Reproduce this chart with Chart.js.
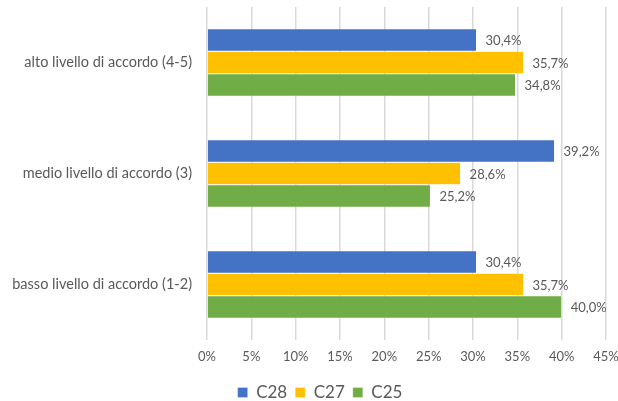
<!DOCTYPE html>
<html>
<head>
<meta charset="utf-8">
<script src="https://cdn.jsdelivr.net/npm/chart.js@4/dist/chart.umd.min.js"></script>
<style>
  html, body { margin: 0; padding: 0; background: #fff; }
  #wrap { width: 618px; height: 401px; }
</style>
</head>
<body>
<div id="wrap"><canvas id="chart"></canvas></div>
<script>
const categories = ['alto livello di accordo (4-5)', 'medio livello di accordo (3)', 'basso livello di accordo (1-2)'];
const seriesNames = ['C28', 'C27', 'C25'];
const c28 = [30.4, 39.2, 30.4];
const c27 = [35.7, 28.6, 35.7];
const c25 = [34.8, 25.2, 40.0];
const xTicks = [0, 5, 10, 15, 20, 25, 30, 35, 40, 45];

const colors = ['#4472C4', '#FFC000', '#70AD47'];
const FONT = 'Lato, "Open Sans", sans-serif';
const TXT = '#595959';

const fmt = v => v.toFixed(1).replace('.', ',') + '%';

// draws value labels just past the end of each bar
const barLabels = {
  id: 'barLabels',
  afterDatasetsDraw(chart) {
    const ctx = chart.ctx;
    ctx.save();
    ctx.font = '13px ' + FONT;
    ctx.fillStyle = TXT;
    ctx.textAlign = 'left';
    ctx.textBaseline = 'middle';
    chart.data.datasets.forEach((ds, i) => {
      chart.getDatasetMeta(i).data.forEach((bar, j) => {
        ctx.fillText(fmt(ds.data[j]), bar.x + 9, bar.y + 1);
      });
    });
    ctx.restore();
  }
};

// legend sits lower and a bit right in the original
const tightLegend = {
  id: 'tightLegend',
  beforeLayout(chart) {
    const lg = chart.legend;
    if (!lg || lg._tight) return;
    const fit = lg.fit;
    lg.fit = function () { fit.call(this); this.height -= 10; };
    lg._tight = true;
  },
  afterLayout(chart) {
    const lg = chart.legend;
    if (!lg) return;
    lg.left += 17;
    lg.right += 17;
  }
};

new Chart(document.getElementById('chart'), {
  type: 'bar',
  data: {
    labels: categories,
    datasets: [c28, c27, c25].map((d, i) => ({
      label: seriesNames[i],
      data: d,
      backgroundColor: colors[i],
      borderColor: 'rgba(255,255,255,0.6)',
      borderWidth: 0.5,
      categoryPercentage: 0.61,
      barPercentage: 1.0
    }))
  },
  options: {
    indexAxis: 'y',
    responsive: true,
    maintainAspectRatio: false,
    animation: false,
    layout: { padding: { top: 7, right: 12, left: 0, bottom: 0 } },
    plugins: {
      legend: {
        position: 'bottom',
        labels: { color: TXT, font: { size: 17, family: FONT }, boxWidth: 10, boxHeight: 10, padding: 8 }
      },
      tooltip: { enabled: false }
    },
    scales: {
      x: {
        min: 0, max: 45,
        afterBuildTicks: axis => { axis.ticks = xTicks.map(v => ({ value: v })); },
        afterFit: axis => { axis.height = 36; axis.paddingRight = 0; },
        ticks: { color: TXT, font: { size: 13, family: FONT }, padding: 9, callback: v => v + '%' },
        grid: { color: '#d9d9d9', lineWidth: 1.5, drawTicks: false },
        border: { display: false }
      },
      y: {
        afterFit: axis => { axis.width = 207; axis.paddingTop = 0; axis.paddingBottom = 0; },
        ticks: { color: TXT, font: { size: 14.5, family: FONT }, padding: 7 },
        grid: { display: false },
        border: { display: false }
      }
    }
  },
  plugins: [barLabels, tightLegend]
});
</script>
</body>
</html>
